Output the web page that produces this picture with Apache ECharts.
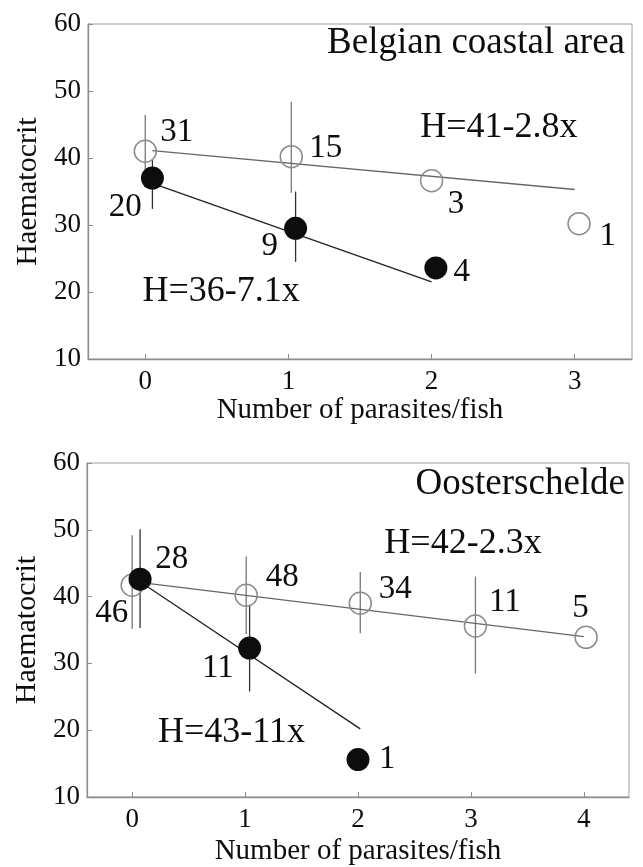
<!DOCTYPE html>
<html><head><meta charset="utf-8">
<script src="https://cdn.jsdelivr.net/npm/echarts@6/dist/echarts.min.js"></script>
<style>html,body{margin:0;padding:0;background:#fff}#c{width:643px;height:867px}</style>
</head><body><div id="c"></div>
<script>
const FONT = '"Liberation Serif", "Times New Roman", serif';

// ---- Panel texts / ticks ----
const panelTitles = ['Belgian coastal area', 'Oosterschelde'];
const xTickValues = [[0, 1, 2, 3], [0, 1, 2, 3, 4]];
const xRanges = [[-0.4, 3.4], [-0.4, 4.4]];
const yRange = [10, 60];
const xAxisName = 'Number of parasites/fish';
const yAxisName = 'Haematocrit';

// ---- Belgian coastal area ----
const beOpenX = [0, 1.02, 2.0, 3.03];
const beOpenY = [41.0, 40.2, 36.6, 30.2];
const beOpenLow = [35.6, 34.8, null, null];
const beOpenHigh = [46.4, 48.4, null, null];
const beOpenN = ['31', '15', '3', '1'];
const beOpenNPos = [[0.22, 43.9], [1.26, 41.5], [2.17, 33.1], [3.23, 28.3]];

const beBlackX = [0.05, 1.05, 2.03];
const beBlackY = [37.0, 29.5, 23.6];
const beBlackLow = [32.4, 24.5, null];
const beBlackHigh = [39.7, 35.0, null];
const beBlackN = ['20', '9', '4'];
const beBlackNPos = [[-0.14, 32.7], [0.87, 26.8], [2.21, 23.0]];

const beOpenFit = [[0.05, 41.1], [3.0, 35.3]];
const beBlackFit = [[0.08, 36.0], [2.0, 21.5]];
const beEq = ['H=41-2.8x', 'H=36-7.1x'];
const beEqPos = [[2.47, 44.6], [0.53, 20.1]];

// ---- Oosterschelde ----
const osOpenX = [0, 1.01, 2.02, 3.04, 4.02];
const osOpenY = [41.7, 40.2, 39.0, 35.6, 33.9];
const osOpenLow = [35.2, 34.4, 34.5, 28.5, null];
const osOpenHigh = [49.2, 46.0, 43.7, 43.0, null];
const osOpenN = ['46', '48', '34', '11', '5'];
const osOpenNPos = [[-0.18, 37.5], [1.33, 42.9], [2.33, 41.1], [3.30, 39.1], [3.97, 38.2]];

const osBlackX = [0.07, 1.04, 2.0];
const osBlackY = [42.6, 32.3, 15.6];
const osBlackLow = [35.3, 25.8, null];
const osBlackHigh = [50.1, 38.8, null];
const osBlackN = ['28', '11', '1'];
const osBlackNPos = [[0.35, 45.6], [0.76, 29.3], [2.26, 15.6]];

const osOpenFit = [[0.08, 42.1], [4.0, 34.0]];
const osBlackFit = [[0.08, 42.1], [2.02, 20.2]];
const osEq = ['H=42-2.3x', 'H=43-11x'];
const osEqPos = [[2.93, 48.0], [0.88, 19.7]];

// ---- helpers ----
const INK = '#0d0d0d';
function zip(xs, ys) { return xs.map((x, i) => [x, ys[i]]); }

function errSeries(gi, xs, lows, highs, color) {
  const data = [];
  xs.forEach((x, i) => { if (lows[i] != null) data.push([x, lows[i], highs[i]]); });
  return {
    type: 'custom', xAxisIndex: gi, yAxisIndex: gi, data, silent: true, z: 1,
    encode: { x: 0, y: [1, 2] },
    renderItem(params, api) {
      const p1 = api.coord([api.value(0), api.value(1)]);
      const p2 = api.coord([api.value(0), api.value(2)]);
      return { type: 'line', shape: { x1: p1[0], y1: p1[1], x2: p2[0], y2: p2[1] },
        style: { stroke: color, lineWidth: 1.3 } };
    }
  };
}
function fitSeries(gi, pts, color) {
  return { type: 'line', xAxisIndex: gi, yAxisIndex: gi, data: pts, showSymbol: false, symbol: 'none',
    lineStyle: { color, width: 1.3, opacity: 1 }, silent: true, z: 2 };
}
function openSeries(gi, xs, ys) {
  return { type: 'scatter', xAxisIndex: gi, yAxisIndex: gi, data: zip(xs, ys), symbol: 'circle', symbolSize: 22,
    itemStyle: { color: 'rgba(255,255,255,0)', borderColor: '#8c8c8c', borderWidth: 1.5, opacity: 1 }, silent: true, z: 3 };
}
function blackSeries(gi, xs, ys) {
  return { type: 'scatter', xAxisIndex: gi, yAxisIndex: gi, data: zip(xs, ys), symbol: 'circle', symbolSize: 23,
    itemStyle: { color: INK, opacity: 1 }, silent: true, z: 4 };
}
function textSeries(gi, pos, texts, size) {
  return { type: 'scatter', xAxisIndex: gi, yAxisIndex: gi, symbolSize: 0, silent: true, z: 5,
    itemStyle: { opacity: 1 },
    data: pos.map((p, i) => ({ value: p, name: texts[i] })),
    label: { show: true, position: 'inside', formatter: p => p.name, fontFamily: FONT, fontSize: size, color: INK, opacity: 1 } };
}

const grids = [
  { left: 88, right: 11, top: 24, height: 335 },
  { left: 87, right: 14, top: 463, height: 334 }
];
const nameGaps = [37, 40];
const gridsOpt = grids.map(g => Object.assign({ show: true, borderColor: '#a0a0a0', borderWidth: 1, backgroundColor: '#fff' }, g));

const xAxes = [0, 1].map(i => ({
  type: 'value', gridIndex: i, min: xRanges[i][0], max: xRanges[i][1],
  name: xAxisName, nameLocation: 'middle', nameGap: nameGaps[i],
  nameTextStyle: { fontFamily: FONT, fontSize: 29, color: INK },
  axisLine: { show: true, onZero: false, lineStyle: { color: '#8c8c8c', width: 1.3 } },
  axisTick: { show: true, inside: true, length: 5, customValues: xTickValues[i], lineStyle: { color: '#8c8c8c' } },
  axisLabel: { show: true, customValues: xTickValues[i], margin: 9, fontFamily: FONT, fontSize: 27, color: INK },
  splitLine: { show: false }
}));
const yAxes = [0, 1].map(i => ({
  type: 'value', gridIndex: i, min: yRange[0], max: yRange[1], interval: 10,
  name: yAxisName, nameLocation: 'middle', nameGap: 42, nameRotate: 90,
  nameTextStyle: { fontFamily: FONT, fontSize: 30, color: INK },
  axisLine: { show: true, onZero: false, lineStyle: { color: '#8c8c8c', width: 1.3 } },
  axisTick: { show: true, inside: true, length: 5, lineStyle: { color: '#8c8c8c' } },
  axisLabel: { margin: 7, fontFamily: FONT, fontSize: 27, color: INK },
  splitLine: { show: false }
}));

const series = [
  errSeries(0, beOpenX, beOpenLow, beOpenHigh, '#777'),
  errSeries(0, beBlackX, beBlackLow, beBlackHigh, '#333'),
  fitSeries(0, beOpenFit, '#666'),
  fitSeries(0, beBlackFit, '#222'),
  openSeries(0, beOpenX, beOpenY),
  blackSeries(0, beBlackX, beBlackY),
  textSeries(0, beOpenNPos, beOpenN, 33),
  textSeries(0, beBlackNPos, beBlackN, 33),
  textSeries(0, beEqPos, beEq, 36),

  errSeries(1, osOpenX, osOpenLow, osOpenHigh, '#777'),
  errSeries(1, osBlackX, osBlackLow, osBlackHigh, '#333'),
  fitSeries(1, osOpenFit, '#666'),
  fitSeries(1, osBlackFit, '#222'),
  openSeries(1, osOpenX, osOpenY),
  blackSeries(1, osBlackX, osBlackY),
  textSeries(1, osOpenNPos, osOpenN, 33),
  textSeries(1, osBlackNPos, osBlackN, 33),
  textSeries(1, osEqPos, osEq, 36)
];

const chart = echarts.init(document.getElementById('c'), null, { renderer: 'canvas' });
chart.setOption({
  animation: false,
  backgroundColor: '#fff',
  title: [
    { text: panelTitles[0], right: 18, top: 25, padding: 0, textStyle: { fontFamily: FONT, fontSize: 37, fontWeight: 'normal', color: INK } },
    { text: panelTitles[1], right: 18, top: 466, padding: 0, textStyle: { fontFamily: FONT, fontSize: 37, fontWeight: 'normal', color: INK } }
  ],
  grid: gridsOpt,
  xAxis: xAxes,
  yAxis: yAxes,
  series
});
</script>
</body></html>
